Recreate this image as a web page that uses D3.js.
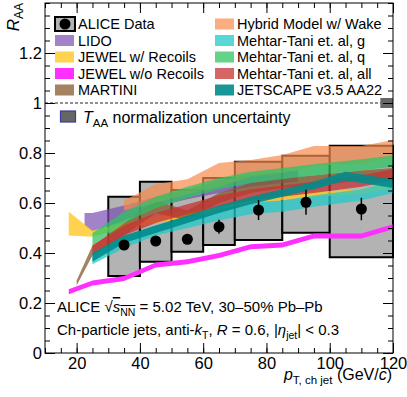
<!DOCTYPE html>
<html>
<head>
<meta charset="utf-8">
<title>ALICE R_AA, R = 0.6, 30-50%</title>
<script src="https://d3js.org/d3.v7.min.js"></script>
<style>
  body { margin: 0; background: #fff; }
  text { font-family: "Liberation Sans", Arial, Helvetica, sans-serif; fill: #000; }
</style>
</head>
<body>
<svg width="407" height="397"></svg>
<script>
// ---- ALICE data ----
var binLo   = [30, 40, 50, 60, 70, 85, 100];
var binHi   = [40, 50, 60, 70, 85, 100, 120];
var ptData  = [35, 45, 55, 65, 77.5, 92.5, 110];
var raaData = [0.432, 0.448, 0.455, 0.505, 0.572, 0.603, 0.576];
var statErr = [0.015, 0.015, 0.015, 0.028, 0.04, 0.05, 0.045];
var sysLo   = [0.308, 0.365, 0.405, 0.432, 0.452, 0.481, 0.383];
var sysHi   = [0.625, 0.685, 0.652, 0.700, 0.765, 0.789, 0.829];
var taaUnc  = 0.02;

// ---- models (pt, lower edge, upper edge) ----
var lidoPt = [22.5, 25, 35, 45, 55, 65, 75, 85, 90];
var lidoLo = [0.51, 0.485, 0.53, 0.585, 0.615, 0.64, 0.665, 0.68, 0.685];
var lidoHi = [0.56, 0.56, 0.59, 0.625, 0.655, 0.69, 0.715, 0.725, 0.73];

var jewelRPt = [17.5, 25, 35, 45, 55, 65, 75, 85, 95, 110, 120];
var jewelRLo = [0.47, 0.465, 0.50, 0.52, 0.54, 0.565, 0.605, 0.61, 0.625, 0.635, 0.66];
var jewelRHi = [0.565, 0.49, 0.52, 0.545, 0.565, 0.585, 0.625, 0.63, 0.645, 0.655, 0.68];

var jewelPt = [17.5, 25, 35, 45, 55, 65, 75, 85, 95, 110, 120];
var jewelLo = [0.235, 0.27, 0.288, 0.342, 0.355, 0.38, 0.415, 0.422, 0.458, 0.458, 0.495];
var jewelHi = [0.255, 0.29, 0.308, 0.362, 0.375, 0.40, 0.435, 0.442, 0.478, 0.478, 0.515];

var martiniPt = [20, 25, 35, 45, 55, 65, 75, 85, 95, 110, 120];
var martiniLo = [0.27, 0.39, 0.47, 0.56, 0.53, 0.60, 0.64, 0.66, 0.67, 0.69, 0.70];
var martiniHi = [0.29, 0.43, 0.52, 0.61, 0.57, 0.64, 0.68, 0.70, 0.71, 0.73, 0.74];

var hybridPt = [35, 45, 55, 65, 75, 85, 95, 110, 120];
var hybridLo = [0.57, 0.60, 0.635, 0.665, 0.705, 0.72, 0.75, 0.758, 0.785];
var hybridHi = [0.61, 0.675, 0.695, 0.76, 0.772, 0.792, 0.828, 0.828, 0.852];

var mtgPt = [25, 35, 45, 55, 65, 75, 85, 95, 110, 120];
var mtgLo = [0.355, 0.42, 0.47, 0.50, 0.53, 0.555, 0.565, 0.585, 0.61, 0.64];
var mtgHi = [0.39, 0.465, 0.51, 0.54, 0.575, 0.60, 0.61, 0.63, 0.655, 0.685];

var mtqPt = [25, 35, 45, 55, 65, 75, 85, 95, 110, 120];
var mtqLo = [0.43, 0.52, 0.58, 0.62, 0.655, 0.68, 0.695, 0.71, 0.73, 0.745];
var mtqHi = [0.48, 0.565, 0.625, 0.665, 0.70, 0.725, 0.74, 0.755, 0.775, 0.79];

var mtaPt = [25, 35, 45, 55, 65, 75, 85, 95, 110, 120];
var mtaLo = [0.39, 0.47, 0.52, 0.555, 0.585, 0.61, 0.625, 0.64, 0.665, 0.69];
var mtaHi = [0.43, 0.51, 0.56, 0.595, 0.63, 0.655, 0.67, 0.685, 0.71, 0.735];

var jsPt = [25, 35, 45, 55, 65, 75, 85, 95, 105, 120];
var jsLo = [0.365, 0.44, 0.48, 0.52, 0.56, 0.595, 0.625, 0.655, 0.69, 0.66];
var jsHi = [0.40, 0.47, 0.51, 0.55, 0.59, 0.625, 0.655, 0.685, 0.725, 0.695];

var xTicks = [20, 40, 60, 80, 100, 120];
var yTicks = [0, 0.2, 0.4, 0.6, 0.8, 1, 1.2];

// table of bands for drawing, in legend order
var models = [
  { name: "LIDO",                  pt: lidoPt,    lo: lidoLo,    hi: lidoHi,    fill: "#7a4db0", op: 0.7 },
  { name: "JEWEL w/ Recoils",      pt: jewelRPt,  lo: jewelRLo,  hi: jewelRHi,  fill: "#ffc824", op: 0.8 },
  { name: "JEWEL w/o Recoils",     pt: jewelPt,   lo: jewelLo,   hi: jewelHi,   fill: "#ff30ff", op: 1.0 },
  { name: "MARTINI",               pt: martiniPt, lo: martiniLo, hi: martiniHi, fill: "#86582e", op: 0.75 },
  { name: "Hybrid Model w/ Wake",  pt: hybridPt,  lo: hybridLo,  hi: hybridHi,  fill: "#f88a4c", op: 0.7 },
  { name: "Mehtar-Tani et. al, g", pt: mtgPt,     lo: mtgLo,     hi: mtgHi,     fill: "#22c8c8", op: 0.75 },
  { name: "Mehtar-Tani et. al, q", pt: mtqPt,     lo: mtqLo,     hi: mtqHi,     fill: "#2ec462", op: 0.75 },
  { name: "Mehtar-Tani et. al, all", pt: mtaPt,   lo: mtaLo,     hi: mtaHi,     fill: "#c83232", op: 0.75 },
  { name: "JETSCAPE v3.5 AA22",    pt: jsPt,      lo: jsLo,      hi: jsHi,      fill: "#008c8c", op: 0.9 }
];

var svg = d3.select("svg");
var padL = 45, padR = 393, padT = 3, padB = 353;

var x = d3.scaleLinear().domain([10, 120]).range([padL, padR]);
var y = d3.scaleLinear().domain([0, 1.4]).range([padB, padT]);

// sys boxes
svg.append("g").selectAll("rect")
  .data(ptData.map(function(d, i) { return i; }))
  .enter().append("rect")
    .attr("x", function(i) { return x(binLo[i]); })
    .attr("width", function(i) { return x(binHi[i]) - x(binLo[i]); })
    .attr("y", function(i) { return y(sysHi[i]); })
    .attr("height", function(i) { return y(sysLo[i]) - y(sysHi[i]); })
    .attr("fill", "#b3b3b3")
    .attr("stroke", "#000")
    .attr("stroke-width", 2);

// model bands
var area = d3.area()
  .x(function(d) { return x(d[0]); })
  .y0(function(d) { return y(d[1]); })
  .y1(function(d) { return y(d[2]); });

svg.append("g").selectAll("path")
  .data(models)
  .enter().append("path")
    .attr("d", function(m) { return area(m.pt.map(function(p, i) { return [p, m.lo[i], m.hi[i]]; })); })
    .attr("fill", function(m) { return m.fill; })
    .attr("fill-opacity", function(m) { return m.op; });

// dashed line at 1
svg.append("line")
  .attr("x1", padL).attr("x2", padR)
  .attr("y1", y(1)).attr("y2", y(1))
  .attr("stroke", "#222").attr("stroke-width", 1)
  .attr("stroke-dasharray", "3,2");

// T_AA box at right edge
svg.append("rect")
  .attr("x", x(116)).attr("width", x(120) - x(116))
  .attr("y", y(1 + taaUnc)).attr("height", y(1 - taaUnc) - y(1 + taaUnc))
  .attr("fill", "#666");

// stat error bars and points
svg.append("g").selectAll("line")
  .data(ptData.map(function(d, i) { return i; }))
  .enter().append("line")
    .attr("x1", function(i) { return x(ptData[i]); })
    .attr("x2", function(i) { return x(ptData[i]); })
    .attr("y1", function(i) { return y(raaData[i] - statErr[i]); })
    .attr("y2", function(i) { return y(raaData[i] + statErr[i]); })
    .attr("stroke", "#000").attr("stroke-width", 1.5);

svg.append("g").selectAll("circle")
  .data(ptData.map(function(d, i) { return i; }))
  .enter().append("circle")
    .attr("cx", function(i) { return x(ptData[i]); })
    .attr("cy", function(i) { return y(raaData[i]); })
    .attr("r", 5.5)
    .attr("fill", "#000");

// axes (ROOT style: ticks inside, on all four sides)
function minorVals(a, b, s) { return d3.range(a, b + 1e-9, s); }

svg.append("g").attr("transform", "translate(0," + padB + ")")
  .call(d3.axisBottom(x).tickValues(minorVals(10, 120, 5)).tickSize(-5).tickFormat(""));
svg.append("g").attr("transform", "translate(0," + padB + ")")
  .call(d3.axisBottom(x).tickValues(xTicks).tickSize(-10).tickPadding(4).tickFormat(d3.format("d")))
  .attr("font-size", 16.5);
svg.append("g").attr("transform", "translate(0," + padT + ")")
  .call(d3.axisTop(x).tickValues(minorVals(10, 120, 5)).tickSize(-5).tickFormat(""));
svg.append("g").attr("transform", "translate(0," + padT + ")")
  .call(d3.axisTop(x).tickValues(xTicks).tickSize(-10).tickFormat(""));

svg.append("g").attr("transform", "translate(" + padL + ",0)")
  .call(d3.axisLeft(y).tickValues(minorVals(0, 1.4, 0.05)).tickSize(-5).tickFormat(""));
svg.append("g").attr("transform", "translate(" + padL + ",0)")
  .call(d3.axisLeft(y).tickValues(yTicks).tickSize(-10).tickPadding(3).tickFormat(function(d) { return String(+d.toFixed(1)); }))
  .attr("font-size", 16.5);
svg.append("g").attr("transform", "translate(" + padR + ",0)")
  .call(d3.axisRight(y).tickValues(minorVals(0, 1.4, 0.05)).tickSize(-5).tickFormat(""));
svg.append("g").attr("transform", "translate(" + padR + ",0)")
  .call(d3.axisRight(y).tickValues(yTicks).tickSize(-10).tickFormat(""));

svg.selectAll(".domain").remove();
svg.selectAll(".tick line").attr("stroke", "#000");
svg.selectAll(".tick text").attr("font-family", "Liberation Sans, Arial, sans-serif").attr("fill", "#000");

// frame
svg.append("rect")
  .attr("x", padL).attr("y", padT)
  .attr("width", padR - padL).attr("height", padB - padT)
  .attr("fill", "none").attr("stroke", "#000").attr("stroke-width", 1);

// axis titles
var yt = svg.append("text")
  .attr("transform", "translate(19," + padT + ") rotate(-90)")
  .attr("text-anchor", "end")
  .attr("font-size", 17);
yt.append("tspan").attr("font-style", "italic").text("R");
yt.append("tspan").attr("font-size", 12).attr("dy", 4).text("AA");

var xt = svg.append("text")
  .attr("x", 392).attr("y", 380)
  .attr("text-anchor", "end")
  .attr("font-size", 16);
xt.append("tspan").attr("font-style", "italic").text("p");
xt.append("tspan").attr("font-size", 11.5).attr("dy", 4).text("T, ch jet");
xt.append("tspan").attr("dy", -4).text(" (GeV/");
xt.append("tspan").attr("font-style", "italic").text("c");
xt.append("tspan").text(")");

// legend
var rowY = [24, 40.5, 57, 73.5, 90];
var lg = svg.append("g").attr("font-size", 14.5);

// ALICE data entry
lg.append("rect").attr("x", 55).attr("y", rowY[0] - 7).attr("width", 20).attr("height", 14)
  .attr("fill", "#b3b3b3").attr("stroke", "#000").attr("stroke-width", 2);
lg.append("circle").attr("cx", 65).attr("cy", rowY[0]).attr("r", 5.5).attr("fill", "#000");
lg.append("text").attr("x", 78).attr("y", rowY[0] + 5).text("ALICE Data");

models.forEach(function(m, i) {
  var k = i + 1;
  var col = k < 5 ? 0 : 1;
  var row = k < 5 ? k : k - 5;
  var sx = col === 0 ? 55 : 215;
  var tx = col === 0 ? 78 : 237;
  lg.append("rect").attr("x", sx).attr("y", rowY[row] - 5.5).attr("width", 19).attr("height", 11)
    .attr("fill", m.fill).attr("fill-opacity", m.op);
  lg.append("text").attr("x", tx).attr("y", rowY[row] + 5).text(m.name);
});

// T_AA legend entry
lg.append("rect").attr("x", 60.5).attr("y", 111).attr("width", 15).attr("height", 11)
  .attr("fill", "#666").attr("stroke", "#3a3aa0").attr("stroke-width", 1.2);
var tl = lg.append("text").attr("x", 83).attr("y", 123).attr("font-size", 16);
tl.append("tspan").attr("font-style", "italic").text("T");
tl.append("tspan").attr("font-size", 11.5).attr("dy", 4).text("AA");
tl.append("tspan").attr("dy", -4).text(" normalization uncertainty");

// annotations
var a1 = svg.append("text").attr("x", 57).attr("y", 312).attr("font-size", 15);
a1.append("tspan").text("ALICE \u221A");
a1.append("tspan").attr("font-style", "italic").attr("text-decoration", "overline").text("s");
a1.append("tspan").attr("font-size", 10.5).attr("dy", 4).attr("text-decoration", "overline").text("NN");
a1.append("tspan").attr("dy", -4).text(" = 5.02 TeV, 30\u201350% Pb\u2013Pb");

var a2 = svg.append("text").attr("x", 57).attr("y", 335).attr("font-size", 15);
a2.append("tspan").text("Ch-particle jets, anti-");
a2.append("tspan").attr("font-style", "italic").text("k");
a2.append("tspan").attr("font-size", 10.5).attr("dy", 4).text("T");
a2.append("tspan").attr("dy", -4).text(", ");
a2.append("tspan").attr("font-style", "italic").text("R");
a2.append("tspan").text(" = 0.6, |");
a2.append("tspan").attr("font-style", "italic").text("\u03B7");
a2.append("tspan").attr("font-size", 10.5).attr("dy", 4).text("jet");
a2.append("tspan").attr("dy", -4).text("| < 0.3");
</script>
</body>
</html>
